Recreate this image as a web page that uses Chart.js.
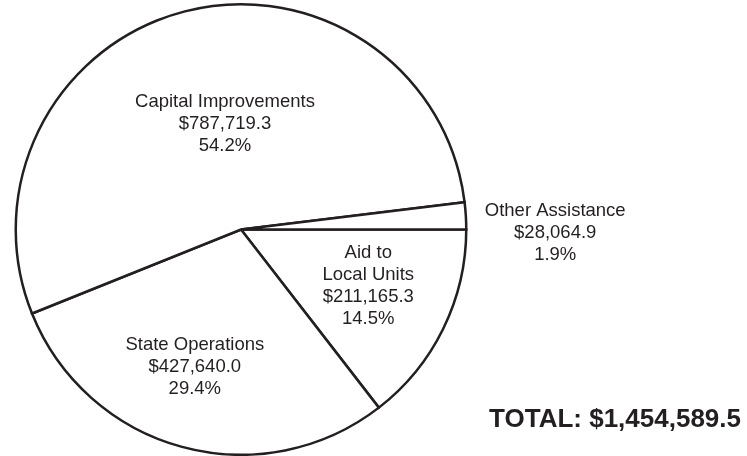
<!DOCTYPE html>
<html>
<head>
<meta charset="utf-8">
<script src="https://cdn.jsdelivr.net/npm/chart.js@4.4.1/dist/chart.umd.min.js"></script>
<style>
  html, body { margin: 0; padding: 0; background: #fff; }
  #wrap { width: 747px; height: 456px; position: relative; }
</style>
</head>
<body>
<div id="wrap"><canvas id="pie"></canvas></div>
<script>
// slices, clockwise from 3 o'clock
const categories = ['Aid to Local Units', 'State Operations', 'Capital Improvements', 'Other Assistance'];
const labelLines = [
  ['Aid to', 'Local Units'],
  ['State Operations'],
  ['Capital Improvements'],
  ['Other Assistance']
];
const amounts = [211165.3, 427640.0, 787719.3, 28064.9];
const percents = ['14.5%', '29.4%', '54.2%', '1.9%'];
const totalText = 'TOTAL: $1,454,589.5';

// where each label block sits, in multiples of the radius from the pie centre
const labelAnchor = [[0.565, 0.252], [-0.205, 0.608], [-0.071, -0.47], [1.395, 0.016]];

const INK = '#231f20';

const fmt = v => '$' + v.toLocaleString('en-US', { minimumFractionDigits: 1, maximumFractionDigits: 1 });

const sliceLabels = {
  id: 'sliceLabels',
  afterDraw(chart) {
    const ctx = chart.ctx;
    const arcs = chart.getDatasetMeta(0).data;
    const cx = arcs[0].x, cy = arcs[0].y, r = arcs[0].outerRadius;
    ctx.save();
    ctx.fillStyle = INK;
    ctx.textAlign = 'center';
    ctx.textBaseline = 'middle';
    ctx.font = '18.5px "Liberation Sans", Arial, sans-serif';
    const lh = 22;
    arcs.forEach((arc, i) => {
      const lines = labelLines[i].concat([fmt(amounts[i]), percents[i]]);
      const x = cx + labelAnchor[i][0] * r;
      const y = cy + labelAnchor[i][1] * r;
      const y0 = y - (lines.length - 1) * lh / 2;
      lines.forEach((t, k) => ctx.fillText(t, x, y0 + k * lh));
    });
    ctx.font = 'bold 26px "Liberation Sans", Arial, sans-serif';
    ctx.textAlign = 'right';
    ctx.textBaseline = 'alphabetic';
    ctx.fillText(totalText, chart.width - 6, 427);
    ctx.restore();
  }
};

new Chart(document.getElementById('pie'), {
  type: 'pie',
  data: {
    labels: categories,
    datasets: [{
      data: amounts,
      backgroundColor: '#ffffff',
      borderColor: INK,
      borderWidth: 2.5,
      borderJoinStyle: 'miter'
    }]
  },
  options: {
    responsive: true,
    maintainAspectRatio: false,
    animation: false,
    rotation: 90,
    layout: { padding: { left: 14, right: 279, top: 3, bottom: 0 } },
    plugins: {
      legend: { display: false },
      tooltip: { enabled: false }
    }
  },
  plugins: [sliceLabels]
});
</script>
</body>
</html>
